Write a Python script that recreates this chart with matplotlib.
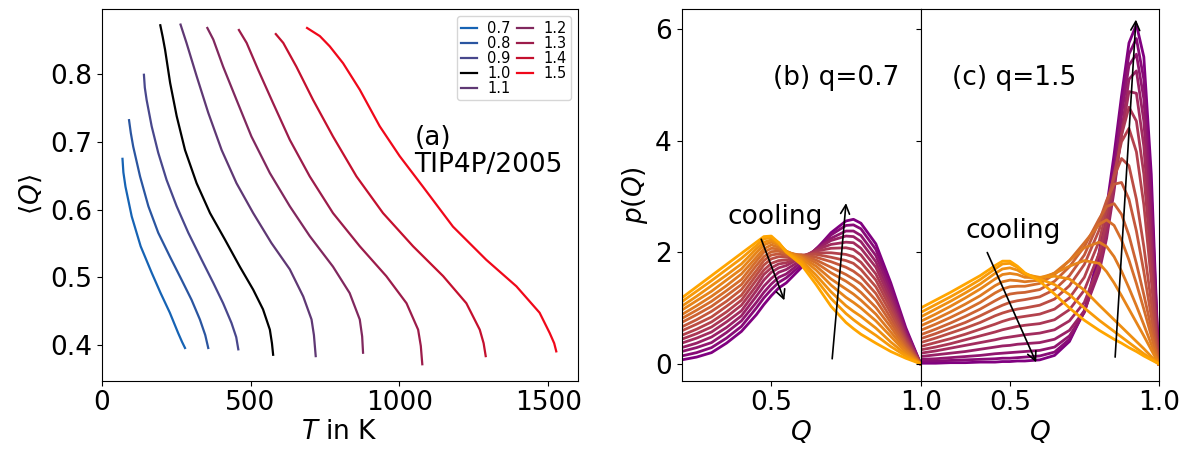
import numpy as np
import matplotlib
matplotlib.use('Agg')
import matplotlib.pyplot as plt

# ---- panel (a): <Q> vs T for several q ----
q_labels = ['0.7', '0.8', '0.9', '1.0', '1.1', '1.2', '1.3', '1.4', '1.5']
q_colors = ['#1663b4', '#2a55a0', '#48478c', '#000000', '#5f3874',
            '#80285e', '#9c1c4a', '#c4102e', '#f0081a']

T_07 = [70, 73, 80, 101, 131, 168, 198, 229, 257, 270, 280]
Q_07 = [0.675, 0.655, 0.634, 0.590, 0.546, 0.507, 0.477, 0.448, 0.418, 0.405, 0.396]
T_08 = [92, 98, 106, 129, 157, 190, 229, 268, 302, 330, 348, 358]
Q_08 = [0.732, 0.713, 0.693, 0.649, 0.605, 0.566, 0.531, 0.497, 0.467, 0.438, 0.415, 0.396]
T_09 = [142, 145, 151, 168, 190, 218, 252, 291, 336, 375, 408, 436, 452, 459]
Q_09 = [0.799, 0.780, 0.762, 0.723, 0.684, 0.644, 0.605, 0.566, 0.526, 0.492, 0.462, 0.433, 0.412, 0.394]
T_10 = [197, 205, 213, 230, 252, 280, 319, 364, 414, 464, 509, 542, 565, 572, 576]
Q_10 = [0.872, 0.855, 0.836, 0.787, 0.738, 0.688, 0.639, 0.595, 0.556, 0.516, 0.482, 0.453, 0.423, 0.403, 0.386]
T_11 = [265, 285, 319, 358, 403, 453, 509, 570, 632, 677, 705, 713, 719]
Q_11 = [0.873, 0.846, 0.797, 0.743, 0.688, 0.639, 0.595, 0.551, 0.512, 0.472, 0.438, 0.415, 0.384]
T_12 = [355, 375, 408, 453, 503, 565, 632, 699, 777, 833, 867, 875, 878]
Q_12 = [0.868, 0.851, 0.811, 0.762, 0.708, 0.654, 0.605, 0.561, 0.516, 0.477, 0.438, 0.413, 0.389]
T_13 = [461, 487, 526, 576, 632, 699, 777, 867, 956, 1024, 1063, 1072, 1077]
Q_13 = [0.865, 0.846, 0.806, 0.757, 0.703, 0.649, 0.595, 0.546, 0.502, 0.462, 0.423, 0.399, 0.372]
T_14 = [585, 610, 654, 710, 777, 856, 945, 1046, 1147, 1225, 1270, 1283, 1290]
Q_14 = [0.859, 0.846, 0.811, 0.762, 0.708, 0.649, 0.595, 0.546, 0.502, 0.462, 0.423, 0.403, 0.384]
T_15 = [690, 733, 766, 811, 867, 934, 1001, 1079, 1180, 1292, 1393, 1471, 1505, 1520, 1527]
Q_15 = [0.868, 0.856, 0.841, 0.816, 0.777, 0.723, 0.679, 0.634, 0.575, 0.526, 0.487, 0.448, 0.418, 0.403, 0.391]

T_all = [T_07, T_08, T_09, T_10, T_11, T_12, T_13, T_14, T_15]
Q_all = [Q_07, Q_08, Q_09, Q_10, Q_11, Q_12, Q_13, Q_14, Q_15]

# ---- panel (b): p(Q), q=0.7 ; rows = Q, columns = temperature (hot -> cold) ----
Qgrid_b = [0.2, 0.25, 0.3, 0.35, 0.4, 0.45, 0.475, 0.5, 0.525, 0.55,
           0.6, 0.65, 0.7, 0.75, 0.775, 0.8, 0.85, 0.9, 0.95, 1.0]
p_table_b = [
    [1.18, 1.11, 1.03, 0.96, 0.88, 0.81, 0.74, 0.66, 0.59, 0.51, 0.44, 0.37, 0.29, 0.22, 0.14, 0.07],
    [1.38, 1.30, 1.21, 1.13, 1.04, 0.96, 0.88, 0.79, 0.71, 0.62, 0.54, 0.46, 0.37, 0.29, 0.20, 0.12],
    [1.58, 1.49, 1.40, 1.30, 1.21, 1.12, 1.03, 0.94, 0.84, 0.75, 0.66, 0.57, 0.48, 0.38, 0.29, 0.20],
    [1.78, 1.69, 1.59, 1.50, 1.40, 1.31, 1.22, 1.12, 1.03, 0.93, 0.84, 0.75, 0.65, 0.56, 0.46, 0.37],
    [1.98, 1.89, 1.79, 1.70, 1.61, 1.51, 1.42, 1.33, 1.23, 1.14, 1.05, 0.95, 0.86, 0.77, 0.67, 0.58],
    [2.18, 2.12, 2.06, 1.99, 1.91, 1.84, 1.76, 1.67, 1.59, 1.50, 1.40, 1.31, 1.21, 1.10, 1.00, 0.88],
    [2.28, 2.24, 2.18, 2.13, 2.06, 2.00, 1.92, 1.85, 1.77, 1.68, 1.60, 1.50, 1.39, 1.28, 1.18, 1.06],
    [2.29, 2.26, 2.22, 2.18, 2.13, 2.07, 2.01, 1.95, 1.88, 1.80, 1.72, 1.64, 1.53, 1.43, 1.33, 1.22],
    [2.17, 2.17, 2.14, 2.13, 2.09, 2.06, 2.02, 1.97, 1.92, 1.85, 1.79, 1.72, 1.64, 1.55, 1.46, 1.36],
    [2.00, 2.01, 2.02, 2.02, 2.01, 2.00, 1.97, 1.94, 1.91, 1.86, 1.81, 1.76, 1.69, 1.61, 1.54, 1.45],
    [1.78, 1.83, 1.86, 1.90, 1.92, 1.94, 1.95, 1.95, 1.95, 1.93, 1.92, 1.90, 1.86, 1.82, 1.77, 1.72],
    [1.42, 1.51, 1.59, 1.68, 1.75, 1.81, 1.86, 1.91, 1.96, 1.99, 2.02, 2.04, 2.05, 2.06, 2.06, 2.05],
    [1.03, 1.17, 1.29, 1.41, 1.52, 1.63, 1.73, 1.83, 1.91, 1.99, 2.07, 2.14, 2.21, 2.25, 2.31, 2.35],
    [0.74, 0.90, 1.04, 1.19, 1.34, 1.48, 1.60, 1.73, 1.85, 1.96, 2.08, 2.18, 2.29, 2.38, 2.48, 2.56],
    [0.63, 0.79, 0.94, 1.10, 1.25, 1.39, 1.52, 1.66, 1.80, 1.92, 2.05, 2.17, 2.28, 2.38, 2.49, 2.59],
    [0.53, 0.69, 0.85, 1.00, 1.14, 1.28, 1.43, 1.56, 1.69, 1.82, 1.95, 2.07, 2.19, 2.30, 2.42, 2.52],
    [0.37, 0.51, 0.64, 0.77, 0.89, 1.01, 1.14, 1.26, 1.38, 1.50, 1.61, 1.73, 1.83, 1.94, 2.05, 2.15],
    [0.22, 0.31, 0.39, 0.49, 0.57, 0.66, 0.74, 0.82, 0.91, 0.99, 1.07, 1.14, 1.22, 1.30, 1.38, 1.45],
    [0.10, 0.14, 0.17, 0.21, 0.25, 0.28, 0.32, 0.36, 0.39, 0.43, 0.47, 0.50, 0.54, 0.58, 0.61, 0.65],
    [0.00, 0.00, 0.00, 0.00, 0.00, 0.00, 0.00, 0.00, 0.00, 0.00, 0.00, 0.00, 0.00, 0.00, 0.00, 0.00],
]

# ---- panel (c): p(Q), q=1.5 ; one row per temperature (hot -> cold) ----
Qgrid_c = [0.2, 0.25, 0.3, 0.35, 0.4, 0.45, 0.475, 0.5, 0.525, 0.55, 0.6, 0.65,
           0.7, 0.75, 0.8, 0.825, 0.85, 0.875, 0.9, 0.925, 0.95, 0.975, 1.0]
p_curves_c = [
    [1.00, 1.14, 1.28, 1.43, 1.58, 1.76, 1.84, 1.84, 1.75, 1.63, 1.48, 1.25, 1.00, 0.78, 0.60, 0.52, 0.44, 0.37, 0.29, 0.22, 0.14, 0.07, 0.00],
    [0.92, 1.06, 1.20, 1.35, 1.51, 1.70, 1.79, 1.80, 1.73, 1.62, 1.52, 1.42, 1.24, 1.00, 0.78, 0.68, 0.58, 0.48, 0.38, 0.28, 0.18, 0.09, 0.00],
    [0.84, 0.98, 1.12, 1.27, 1.43, 1.62, 1.70, 1.72, 1.68, 1.60, 1.55, 1.57, 1.52, 1.32, 1.05, 0.92, 0.79, 0.66, 0.53, 0.40, 0.27, 0.13, 0.00],
    [0.76, 0.89, 1.03, 1.18, 1.34, 1.52, 1.60, 1.62, 1.60, 1.55, 1.54, 1.62, 1.75, 1.85, 1.80, 1.65, 1.45, 1.22, 0.98, 0.74, 0.50, 0.25, 0.00],
    [0.68, 0.80, 0.93, 1.07, 1.22, 1.40, 1.47, 1.50, 1.49, 1.47, 1.50, 1.63, 1.85, 2.08, 2.18, 2.10, 1.92, 1.66, 1.36, 1.04, 0.70, 0.35, 0.00],
    [0.60, 0.71, 0.83, 0.96, 1.10, 1.27, 1.34, 1.38, 1.39, 1.39, 1.44, 1.60, 1.85, 2.17, 2.50, 2.58, 2.48, 2.22, 1.86, 1.44, 0.98, 0.50, 0.00],
    [0.52, 0.62, 0.73, 0.85, 0.98, 1.13, 1.20, 1.25, 1.27, 1.28, 1.33, 1.48, 1.74, 2.10, 2.60, 2.82, 2.87, 2.68, 2.30, 1.80, 1.24, 0.64, 0.00],
    [0.45, 0.54, 0.64, 0.74, 0.86, 0.99, 1.05, 1.10, 1.13, 1.15, 1.20, 1.33, 1.58, 1.95, 2.55, 2.93, 3.22, 3.25, 2.95, 2.38, 1.65, 0.85, 0.00],
    [0.38, 0.46, 0.55, 0.64, 0.74, 0.86, 0.91, 0.95, 0.98, 1.00, 1.05, 1.16, 1.40, 1.78, 2.40, 2.88, 3.35, 3.68, 3.55, 2.95, 2.10, 1.10, 0.00],
    [0.31, 0.38, 0.45, 0.53, 0.62, 0.71, 0.76, 0.80, 0.83, 0.85, 0.89, 0.98, 1.18, 1.55, 2.20, 2.75, 3.40, 3.98, 4.22, 3.80, 2.85, 1.50, 0.00],
    [0.25, 0.30, 0.36, 0.43, 0.50, 0.57, 0.61, 0.64, 0.67, 0.69, 0.72, 0.79, 0.97, 1.32, 1.98, 2.55, 3.30, 4.10, 4.60, 4.35, 3.40, 1.80, 0.00],
    [0.19, 0.23, 0.28, 0.33, 0.38, 0.43, 0.46, 0.48, 0.50, 0.52, 0.55, 0.61, 0.77, 1.10, 1.78, 2.38, 3.18, 4.10, 4.88, 4.85, 3.90, 2.10, 0.00],
    [0.13, 0.16, 0.19, 0.22, 0.26, 0.30, 0.32, 0.33, 0.35, 0.36, 0.38, 0.44, 0.60, 0.95, 1.65, 2.25, 3.10, 4.15, 5.10, 5.25, 4.35, 2.40, 0.00],
    [0.08, 0.09, 0.11, 0.13, 0.15, 0.18, 0.19, 0.20, 0.21, 0.22, 0.24, 0.30, 0.50, 0.92, 1.75, 2.45, 3.35, 4.45, 5.35, 5.55, 4.75, 2.75, 0.00],
    [0.04, 0.05, 0.06, 0.07, 0.08, 0.09, 0.10, 0.10, 0.11, 0.12, 0.14, 0.21, 0.44, 0.93, 1.85, 2.60, 3.55, 4.65, 5.55, 5.83, 5.10, 3.05, 0.00],
    [0.01, 0.01, 0.02, 0.02, 0.03, 0.03, 0.04, 0.04, 0.05, 0.05, 0.07, 0.15, 0.40, 0.95, 2.00, 2.80, 3.75, 4.80, 5.75, 6.08, 5.50, 3.40, 0.00],
]

fs = 19
plt.rcParams['font.size'] = fs

fig = plt.figure(figsize=(11.82, 4.5), dpi=100)
ax_a = fig.add_axes([0.0860, 0.1544, 0.4030, 0.8256])
ax_b = fig.add_axes([0.5767, 0.1544, 0.2022, 0.8256])
ax_c = fig.add_axes([0.7789, 0.1544, 0.2014, 0.8256], sharey=ax_b)

# panel (a)
for i in range(len(q_labels)):
    ax_a.plot(T_all[i], Q_all[i], color=q_colors[i], lw=1.6, label=q_labels[i])
ax_a.set_xlim(0, 1600)
ax_a.set_ylim(0.348, 0.896)
ax_a.set_xticks([0, 500, 1000, 1500])
ax_a.set_yticks([0.4, 0.5, 0.6, 0.7, 0.8])
ax_a.set_xlabel(r'$T$ in K', labelpad=2)
ax_a.set_ylabel(r'$\langle Q\rangle$', labelpad=4)
ax_a.text(1050, 0.686, '(a)\nTIP4P/2005', ha='left', va='center', linespacing=1.05)
ax_a.legend(ncol=2, loc='upper right', fontsize=10.5, labelspacing=0.0,
            handlelength=1.1, handletextpad=0.7, columnspacing=0.4,
            borderpad=0.3, borderaxespad=0.5)

# panels (b) and (c): hot (orange) -> cold (purple)
hot = np.array([1.0, 0.647, 0.0])
cold = np.array([0.502, 0.0, 0.502])

pb = np.array(p_table_b).T
nb = len(pb)
for k in range(nb - 1, -1, -1):
    c = hot + (cold - hot) * k / (nb - 1)
    ax_b.plot(Qgrid_b, pb[k], color=c, lw=2.0)

nc = len(p_curves_c)
for k in range(nc - 1, -1, -1):
    c = hot + (cold - hot) * k / (nc - 1)
    ax_c.plot(Qgrid_c, p_curves_c[k], color=c, lw=2.0)

arrow = dict(arrowstyle='->', color='k', lw=1.2, mutation_scale=16)
ax_b.annotate('', xy=(0.547, 1.09), xytext=(0.463, 2.28), arrowprops=arrow)
ax_b.annotate('', xy=(0.751, 2.93), xytext=(0.703, 0.04), arrowprops=arrow)
ax_b.text(0.513, 2.64, 'cooling', ha='center', va='center')
ax_b.text(0.718, 5.13, '(b) q=0.7', ha='center', va='center')

ax_c.annotate('', xy=(0.592, -0.02), xytext=(0.42, 2.04), arrowprops=arrow)
ax_c.annotate('', xy=(0.924, 6.22), xytext=(0.853, 0.07), arrowprops=arrow)
ax_c.text(0.51, 2.38, 'cooling', ha='center', va='center')
ax_c.text(0.514, 5.13, '(c) q=1.5', ha='center', va='center')

for ax in (ax_b, ax_c):
    ax.set_xlim(0.2, 1.0)
    ax.set_xticks([0.5, 1.0])
    ax.set_xlabel(r'$Q$', labelpad=2)
ax_b.set_ylim(-0.3, 6.36)
ax_b.set_yticks([0, 2, 4, 6])
ax_b.set_ylabel(r'$p(Q)$', labelpad=4)
ax_c.tick_params(labelleft=False)

plt.savefig('out.png', dpi=100)
plt.close()
